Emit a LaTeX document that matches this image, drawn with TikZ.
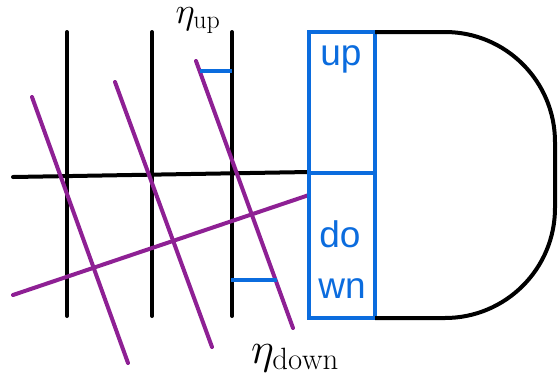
\documentclass[tikz,border=0pt]{standalone}
\usepackage{fix-cm}
\usepackage{fontspec}
\setsansfont{Liberation Sans}
\definecolor{bluc}{RGB}{11,108,222}
\definecolor{purp}{RGB}{142,32,148}
\begin{document}
\begin{tikzpicture}[x=1pt,y=-1pt,
  blk/.style={line width=4pt,line cap=round,black},
  prp/.style={line width=4pt,line cap=round,purp},
  tick/.style={line width=4pt,bluc},
  box/.style={draw=bluc,line width=4.3pt,minimum width=66pt,inner sep=0pt,outer sep=0pt,fill=none},
  sf/.style={text=bluc,font=\sffamily\fontsize{37}{44}\selectfont,inner sep=0pt,anchor=base},
  lab/.style={inner sep=0pt,anchor=base}]
\useasboundingbox (0,0) rectangle (558,376);
% coordinates
\coordinate (h1) at (13,177);
\coordinate (h2) at (309,172);
\coordinate (v1t) at (67,32);  \coordinate (v1b) at (67,316);
\coordinate (v2t) at (152,32); \coordinate (v2b) at (152,316);
\coordinate (v3t) at (232,32); \coordinate (v3b) at (232,316);
\coordinate (p1a) at (32,97);  \coordinate (p1b) at (128,363);
\coordinate (p2a) at (115,82); \coordinate (p2b) at (212,347);
\coordinate (p3a) at (196,61); \coordinate (p3b) at (293,328);
\coordinate (p4a) at (13,295); \coordinate (p4b) at (309,195);
\coordinate (t1a) at (200,71); \coordinate (t1b) at (232,71);
\coordinate (t2a) at (231,280); \coordinate (t2b) at (277,280);
% black grid
\draw[blk] (v1t) -- (v1b);
\draw[blk] (v2t) -- (v2b);
\draw[blk] (v3t) -- (v3b);
\draw[blk] (h1) -- (h2);
% purple lines
\draw[prp] (p1a) -- (p1b);
\draw[prp] (p2a) -- (p2b);
\draw[prp] (p3a) -- (p3b);
\draw[prp] (p4a) -- (p4b);
% blue ticks
\draw[tick] (t1a) -- (t1b);
\draw[tick] (t2a) -- (t2b);
% boxes
\node[box,minimum height=141pt] (upbox) at (342,102.5) {};
\node[box,minimum height=145pt] (dnbox) at (342,245.5) {};
% D shape
\draw[line width=4pt,black,rounded corners=110pt] (upbox.north east) -- (555,32) -- (555,318) -- (dnbox.south east);
% texts
\node[sf] (uptxt) at (341,65) {up};
\node[sf] (dotxt) at (340,247) {do};
\node[sf] (wntxt) at (342,298) {wn};
\node[lab,font=\fontsize{37}{44}\selectfont] (etaup) at (198,23) {$\eta_{\mathrm{up}}$};
\node[lab,font=\fontsize{44}{50}\selectfont] (etadn) at (295,363) {$\eta_{\mathrm{down}}$};
\end{tikzpicture}
\end{document}
